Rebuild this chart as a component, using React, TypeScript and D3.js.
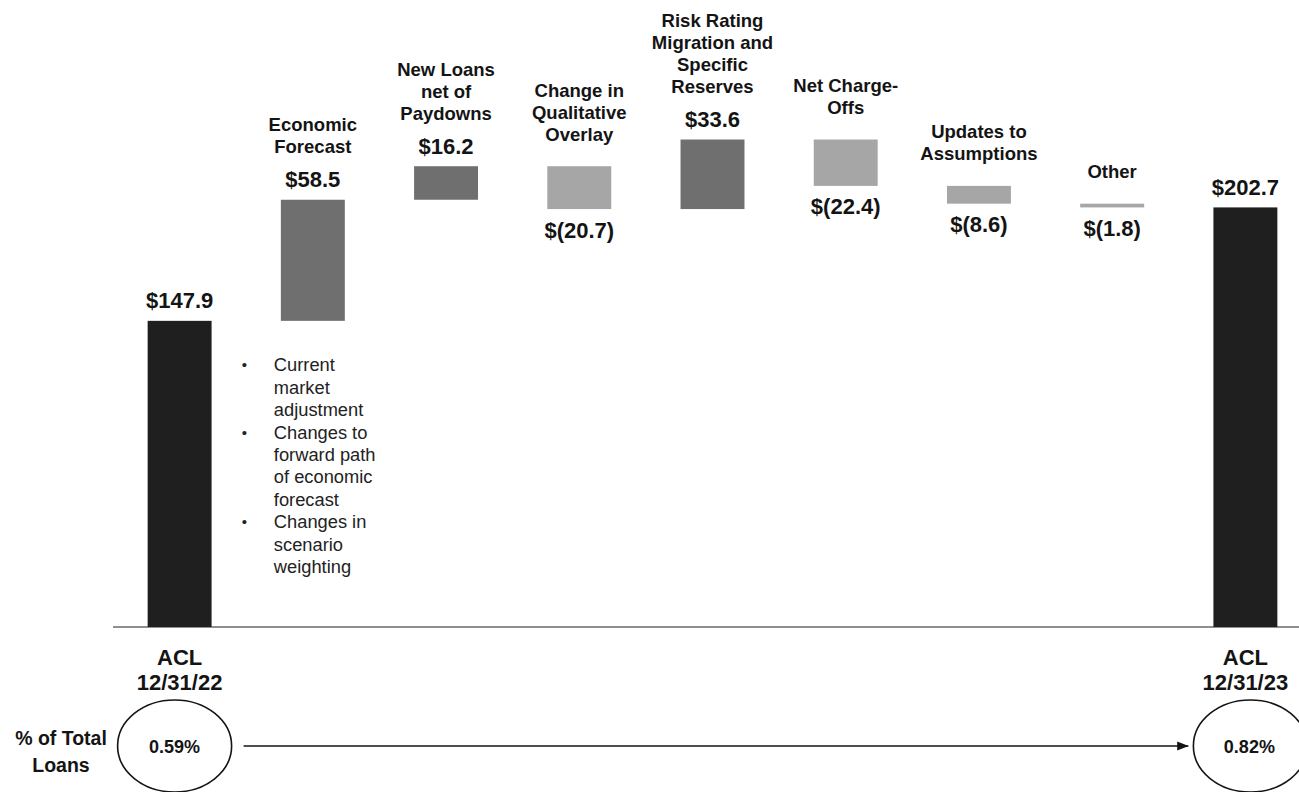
import { useMemo } from 'react';
import * as d3 from 'd3';

// ACL roll-forward, $ millions
const stepKeys = ['start', 'econ', 'loans', 'qual', 'risk', 'nco', 'assump', 'other', 'end'];
const stepKinds = ['total', 'delta', 'delta', 'delta', 'delta', 'delta', 'delta', 'delta', 'total'];
const stepValues = [147.9, 58.5, 16.2, -20.7, 33.6, -22.4, -8.6, -1.8, 202.7];
const stepLabels: string[][] = [
  [],
  ['Economic', 'Forecast'],
  ['New Loans', 'net of', 'Paydowns'],
  ['Change in', 'Qualitative', 'Overlay'],
  ['Risk Rating', 'Migration and', 'Specific', 'Reserves'],
  ['Net Charge-', 'Offs'],
  ['Updates to', 'Assumptions'],
  ['Other'],
  [],
];
const endpointLabels = [
  ['ACL', '12/31/22'],
  ['ACL', '12/31/23'],
];
const pctOfLoans = ['0.59%', '0.82%'];
const pctTitle = ['% of Total', 'Loans'];
const econNotes = [
  ['Current', 'market', 'adjustment'],
  ['Changes to', 'forward path', 'of economic', 'forecast'],
  ['Changes in', 'scenario', 'weighting'],
];

const W = 1299;
const H = 792;
const BASE_Y = 627;
const FONT = '"Liberation Sans", Arial, Helvetica, sans-serif';
const INK = '#141414';
const COLOR_TOTAL = '#1f1f1f';
const COLOR_UP = '#6f6f6f';
const COLOR_DOWN = '#a6a6a6';
const CAT_LINE = 22;

function fmt(v: number) {
  return v < 0 ? `$(${Math.abs(v).toFixed(1)})` : `$${v.toFixed(1)}`;
}

interface Bar {
  key: string;
  kind: string;
  value: number;
  y0: number;
  y1: number;
  labels: string[];
}

export default function App() {
  const bars: Bar[] = useMemo(() => {
    let running = 0;
    return stepKeys.map((key, i) => {
      const kind = stepKinds[i];
      const value = stepValues[i];
      let y0: number;
      let y1: number;
      if (kind === 'total') {
        y0 = 0;
        y1 = value;
        running = value;
      } else {
        y0 = running;
        y1 = running + value;
        running = y1;
      }
      return { key, kind, value, y0, y1, labels: stepLabels[i] };
    });
  }, []);

  const x = d3
    .scaleBand<string>()
    .domain(stepKeys)
    .range([113, 1312])
    .paddingInner(0.52)
    .paddingOuter(0.26);
  const y = d3.scaleLinear().domain([0, 240]).range([BASE_Y, BASE_Y - 240 * 2.07]);
  const bw = x.bandwidth();

  const first = bars[0];
  const last = bars[bars.length - 1];
  const econ = bars[1];
  const cxFirst = (x(first.key) ?? 0) + bw / 2;
  const cxLast = (x(last.key) ?? 0) + bw / 2;

  const ellY = 746;
  const ellRx = 57;
  const ellRy = 46;

  // bullet list under the economic forecast bar
  const noteX = x(econ.key) ?? 0;
  const noteTop = y(econ.y0) + 44;
  let noteLine = 0;

  return (
    <svg
      width={W}
      height={H}
      style={{ position: 'absolute', left: 0, top: 0, display: 'block', background: '#ffffff' }}
      fontFamily={FONT}
    >
      <defs>
        <marker id="arrow" viewBox="0 0 10 10" refX="10" refY="5" markerWidth="7" markerHeight="7" orient="auto">
          <path d="M0,1 L10,5 L0,9 Z" fill={INK} />
        </marker>
      </defs>

      {/* baseline */}
      <line x1={113} x2={W} y1={BASE_Y} y2={BASE_Y} stroke="#8f8f8f" strokeWidth={2} />

      {bars.map(b => {
        const bx = x(b.key) ?? 0;
        const cx = bx + bw / 2;
        const top = y(Math.max(b.y0, b.y1));
        const bottom = y(Math.min(b.y0, b.y1));
        const fill = b.kind === 'total' ? COLOR_TOTAL : b.value >= 0 ? COLOR_UP : COLOR_DOWN;
        const up = b.value >= 0;
        const valueY = up ? top - 20 : bottom + 21;
        const lastLineY = up ? valueY - 33 : top - 32;
        return (
          <g key={b.key}>
            <rect x={bx} y={top} width={bw} height={Math.max(2, bottom - top)} fill={fill} />
            <text
              x={cx}
              y={valueY}
              textAnchor="middle"
              dominantBaseline="central"
              fontSize={22}
              fontWeight={700}
              fill={INK}
            >
              {fmt(b.value)}
            </text>
            {b.labels.map((line, i) => (
              <text
                key={i}
                x={cx}
                y={lastLineY - (b.labels.length - 1 - i) * CAT_LINE}
                textAnchor="middle"
                dominantBaseline="central"
                fontSize={18.5}
                fontWeight={700}
                fill={INK}
              >
                {line}
              </text>
            ))}
          </g>
        );
      })}

      {/* bullet notes */}
      {econNotes.map((note, ni) => (
        <g key={ni}>
          {note.map((line, li) => {
            const ly = noteTop + (noteLine++) * 22.4;
            return (
              <g key={li}>
                {li === 0 && (
                  <text x={noteX - 39} y={ly} dominantBaseline="central" fontSize={15} fill="#222">
                    •
                  </text>
                )}
                <text x={noteX - 7} y={ly} dominantBaseline="central" fontSize={18.3} fill="#222">
                  {line}
                </text>
              </g>
            );
          })}
        </g>
      ))}

      {/* endpoint labels */}
      {[cxFirst, cxLast].map((cx, i) => (
        <g key={i}>
          {endpointLabels[i].map((line, li) => (
            <text
              key={li}
              x={cx}
              y={BASE_Y + 30 + li * 25}
              textAnchor="middle"
              dominantBaseline="central"
              fontSize={22}
              fontWeight={700}
              fill={INK}
            >
              {line}
            </text>
          ))}
          <ellipse cx={cx - 5 + i * 10} cy={ellY} rx={ellRx} ry={ellRy} fill="none" stroke={INK} strokeWidth={1.6} />
          <text
            x={cx - 5 + i * 9}
            y={ellY + 1}
            textAnchor="middle"
            dominantBaseline="central"
            fontSize={18}
            fontWeight={700}
            fill={INK}
          >
            {pctOfLoans[i]}
          </text>
        </g>
      ))}

      {pctTitle.map((line, i) => (
        <text
          key={i}
          x={61}
          y={738 + i * 27}
          textAnchor="middle"
          dominantBaseline="central"
          fontSize={19.5}
          fontWeight={700}
          fill={INK}
        >
          {line}
        </text>
      ))}

      <line
        x1={cxFirst - 5 + ellRx + 12}
        x2={cxLast + 5 - ellRx - 5}
        y1={ellY}
        y2={ellY}
        stroke={INK}
        strokeWidth={1.6}
        markerEnd="url(#arrow)"
      />
    </svg>
  );
}
